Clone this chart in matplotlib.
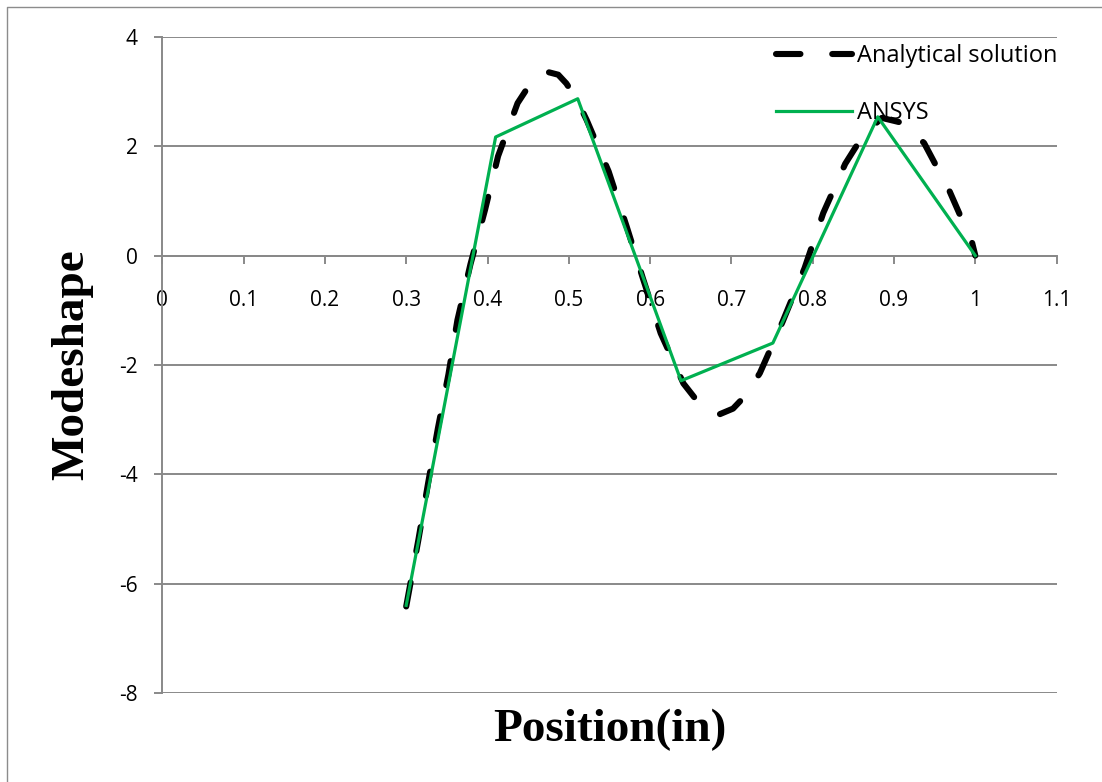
import matplotlib
matplotlib.use("Agg")
import matplotlib.pyplot as plt
from matplotlib.lines import Line2D

# ---- data ----
analytical_x = [0.300, 0.315, 0.327, 0.339, 0.352, 0.363, 0.379, 0.397, 0.413, 0.437,
                0.455, 0.474, 0.487, 0.497, 0.510, 0.522, 0.549, 0.571, 0.591, 0.613,
                0.641, 0.660, 0.677, 0.686, 0.702, 0.718, 0.735, 0.763, 0.790, 0.813,
                0.840, 0.862, 0.885, 0.910, 0.937, 0.968, 0.996, 1.000]
analytical_y = [-6.42, -5.20, -4.16, -3.16, -2.17, -1.18, -0.16, 0.84, 1.82, 2.79,
                3.20, 3.36, 3.31, 3.15, 2.85, 2.48, 1.54, 0.54, -0.41, -1.42,
                -2.34, -2.70, -2.87, -2.90, -2.80, -2.55, -2.15, -1.21, -0.23, 0.78,
                1.68, 2.20, 2.52, 2.43, 2.06, 1.19, 0.24, 0.00]

ansys_x = [0.300, 0.410, 0.511, 0.638, 0.751, 0.880, 1.000]
ansys_y = [-6.40, 2.17, 2.87, -2.29, -1.60, 2.54, 0.00]

x_ticks = [0, 0.1, 0.2, 0.3, 0.4, 0.5, 0.6, 0.7, 0.8, 0.9, 1, 1.1]
x_tick_labels = ["0", "0.1", "0.2", "0.3", "0.4", "0.5", "0.6", "0.7", "0.8", "0.9", "1", "1.1"]
y_ticks = [-8, -6, -4, -2, 0, 2, 4]
y_tick_labels = ["-8", "-6", "-4", "-2", "0", "2", "4"]

W, H = 1102, 782
fig = plt.figure(figsize=(W / 100, H / 100), dpi=100)
fig.patch.set_facecolor("white")

ax_left, ax_right = 162.3, 1056.6
ax_top, ax_bot = 37.0, 692.8
ax = fig.add_axes([ax_left / W, 1 - ax_bot / H, (ax_right - ax_left) / W, (ax_bot - ax_top) / H])

grid_c = "#898989"

for s in ["top", "right"]:
    ax.spines[s].set_visible(False)
ax.spines["left"].set_color(grid_c)
ax.spines["left"].set_linewidth(1.4)
ax.spines["bottom"].set_position(("data", 0))
ax.spines["bottom"].set_color(grid_c)
ax.spines["bottom"].set_linewidth(1.4)

ax.set_xlim(0, 1.1)
ax.set_ylim(-8, 4)
ax.set_yticks(y_ticks)
ax.set_yticklabels(y_tick_labels)
ax.set_xticks(x_ticks)
ax.set_xticklabels(x_tick_labels)
ax.yaxis.grid(True, color=grid_c, linewidth=1.4)
ax.set_axisbelow(True)

ax.tick_params(axis="x", direction="out", length=5.5, width=1.4, color=grid_c, pad=19,
               labelcolor="black", labelsize=15, labelfontfamily="Open Sans")
ax.tick_params(axis="y", direction="out", length=5.8, width=1.4, color=grid_c, pad=12,
               labelcolor="black", labelsize=15, labelfontfamily="Open Sans")

ax.plot(analytical_x, analytical_y, color="black", linewidth=4.4,
        linestyle=(0, (4.0, 5.2)), dash_capstyle="round", solid_capstyle="round",
        label="Analytical solution", zorder=3)
ax.plot(ansys_x, ansys_y, color="#00B050", linewidth=2.3, label="ANSYS", zorder=4)

leg = ax.legend(loc="upper left",
                bbox_to_anchor=((776 - ax_left) / (ax_right - ax_left), (ax_bot - 44) / (ax_bot - ax_top)),
                frameon=False, prop=dict(family="Open Sans", size=17),
                handlelength=3.2, handletextpad=0.25, labelspacing=1.39, borderaxespad=0,
                borderpad=0)

ax.set_xlabel("Position(in)", family="Liberation Serif", weight="bold", size=34, va="center")
ax.xaxis.set_label_coords(0.5, (ax_bot - 730) / (ax_bot - ax_top))
ax.set_ylabel("Modeshape", family="Liberation Serif", weight="bold", size=34, va="center")
ax.yaxis.set_label_coords((72 - ax_left) / (ax_right - ax_left), 0.5)

# outer chart frame (Excel chart area border)
fx = 7.3 / W
fy = 1 - 7.3 / H
fig.add_artist(Line2D([fx, fx, 1.0], [0.0, fy, fy], transform=fig.transFigure,
                      color="#8c8c8c", linewidth=1.0))

fig.savefig("out.png", dpi=100, facecolor="white")
